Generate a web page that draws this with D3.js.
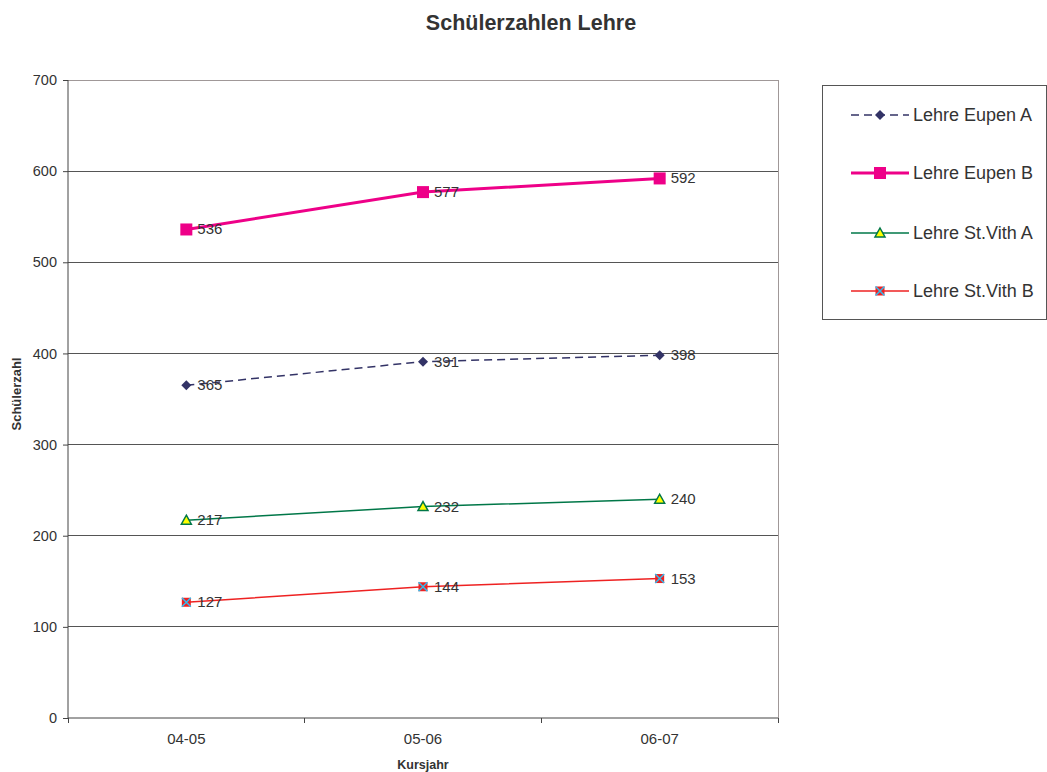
<!DOCTYPE html>
<html><head><meta charset="utf-8">
<script src="https://cdn.jsdelivr.net/npm/d3@7"></script>
<style>body{margin:0;background:#fff}svg{font-family:"Liberation Sans",Arial,sans-serif}</style>
</head><body><svg id="c" width="1047" height="772"></svg>
<script>
const categories = ["04-05","05-06","06-07"];
const seriesNames = ["Lehre Eupen A","Lehre Eupen B","Lehre St.Vith A","Lehre St.Vith B"];
const eupenA = [365,391,398];
const eupenB = [536,577,592];
const stvithA = [217,232,240];
const stvithB = [127,144,153];
const yTicks = [0,100,200,300,400,500,600,700];

const series = [
  {name:seriesNames[0], values:eupenA, color:"#333366", width:1.5, dash:"8,5", marker:"diamond"},
  {name:seriesNames[1], values:eupenB, color:"#ee0088", width:3, dash:null, marker:"bigsquare"},
  {name:seriesNames[2], values:stvithA, color:"#007748", width:1.5, dash:null, marker:"triangle"},
  {name:seriesNames[3], values:stvithB, color:"#ee2222", width:1.5, dash:null, marker:"xsquare"}
];

const svg = d3.select("#c");
const L=68, R=778, T=80, B=718;
const x = d3.scaleBand().domain(categories).range([L,R]);
const y = d3.scaleLinear().domain([0,700]).range([B,T]);

svg.append("text").attr("x",531).attr("y",30).attr("text-anchor","middle")
  .attr("font-size",21.5).attr("font-weight","bold").attr("fill","#333").text("Schülerzahlen Lehre");

// gridlines
svg.append("g").selectAll("line").data(yTicks.filter(d=>d>0)).join("line")
  .attr("x1",L).attr("x2",R).attr("y1",d=>y(d)).attr("y2",d=>y(d))
  .attr("stroke",d=>d===700?"#a09898":"#555").attr("stroke-width",1).attr("shape-rendering","crispEdges");
svg.append("line").attr("x1",R).attr("x2",R).attr("y1",T).attr("y2",B)
  .attr("stroke","#a09898").attr("shape-rendering","crispEdges");

// y axis
const ya = svg.append("g").attr("transform",`translate(${L},0)`)
  .call(d3.axisLeft(y).tickValues(yTicks).tickSize(5).tickPadding(6));
ya.selectAll("text").attr("font-size",14.5).attr("fill","#333").attr("font-family","Liberation Sans, Arial, sans-serif");
ya.selectAll("line,path").attr("stroke","#444");
ya.select("path").attr("d",`M0,${B}V${T}`);

// x axis
const xa = svg.append("g").attr("transform",`translate(0,${B})`)
  .call(d3.axisBottom(x).tickSize(0).tickPadding(15));
xa.selectAll("text").attr("font-size",15).attr("fill","#333").attr("font-family","Liberation Sans, Arial, sans-serif");
xa.select("path").attr("d",`M${L},0H${R}`).attr("stroke","#444");
const bounds = categories.map(c=>x(c)).concat([R]);
xa.selectAll("line.b").data(bounds).join("line").attr("class","b")
  .attr("x1",d=>d).attr("x2",d=>d).attr("y1",0).attr("y2",5).attr("stroke","#444").attr("shape-rendering","crispEdges");

svg.append("text").attr("transform","translate(21,394) rotate(-90)").attr("text-anchor","middle")
  .attr("font-size",13).attr("font-weight","bold").attr("fill","#333").text("Schülerzahl");
svg.append("text").attr("x",423).attr("y",769).attr("text-anchor","middle")
  .attr("font-size",12.5).attr("font-weight","bold").attr("fill","#333").text("Kursjahr");

function drawMarker(g, type, cx, cy){
  if(type==="diamond"){
    g.append("path").attr("d",`M${cx},${cy-5}L${cx+5},${cy}L${cx},${cy+5}L${cx-5},${cy}Z`).attr("fill","#333366");
  } else if(type==="bigsquare"){
    g.append("rect").attr("x",cx-6).attr("y",cy-6).attr("width",12).attr("height",12).attr("fill","#ee0088");
  } else if(type==="triangle"){
    g.append("path").attr("d",`M${cx},${cy-5}L${cx+5},${cy+4}L${cx-5},${cy+4}Z`).attr("fill","#ffff00").attr("stroke","#007748").attr("stroke-width",1.5);
  } else {
    g.append("rect").attr("x",cx-4.5).attr("y",cy-4.5).attr("width",9).attr("height",9).attr("fill","#ee2222");
    g.append("path").attr("d",`M${cx-4.5},${cy-4.5}L${cx+4.5},${cy+4.5}M${cx+4.5},${cy-4.5}L${cx-4.5},${cy+4.5}`).attr("stroke","#33bbee").attr("stroke-width",1.5);
  }
}

const cx = c => x(c)+x.bandwidth()/2;
const line = d3.line().x((d,i)=>cx(categories[i])).y(d=>y(d));
series.forEach(s=>{
  const g = svg.append("g");
  g.append("path").datum(s.values).attr("d",line).attr("fill","none")
    .attr("stroke",s.color).attr("stroke-width",s.width).attr("stroke-dasharray",s.dash);
  s.values.forEach((v,i)=>drawMarker(g,s.marker,cx(categories[i]),y(v)));
  g.selectAll("text").data(s.values).join("text")
    .attr("x",(d,i)=>cx(categories[i])+11).attr("y",d=>y(d)+5)
    .attr("font-size",15).attr("fill","#333").text(d=>d);
});

// legend
const lg = svg.append("g");
lg.append("rect").attr("x",822.5).attr("y",85.5).attr("width",224).attr("height",234)
  .attr("fill","#fff").attr("stroke","#555").attr("stroke-width",1);
const ly = [115,173,233,291];
series.forEach((s,i)=>{
  lg.append("line").attr("x1",851).attr("x2",909).attr("y1",ly[i]).attr("y2",ly[i])
    .attr("stroke",s.color).attr("stroke-width",s.width).attr("stroke-dasharray",s.dash);
  drawMarker(lg,s.marker,880,ly[i]);
  lg.append("text").attr("x",913).attr("y",ly[i]+6).attr("font-size",18).attr("fill","#333").text(s.name);
});
</script></body></html>
